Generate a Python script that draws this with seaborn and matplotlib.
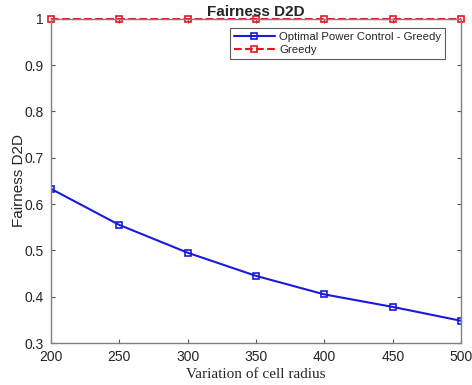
import matplotlib
matplotlib.use("Agg")
import matplotlib.pyplot as plt
import seaborn as sns
import pandas as pd

radius = [200, 250, 300, 350, 400, 450, 500]
opc_greedy = [0.633, 0.555, 0.495, 0.445, 0.405, 0.378, 0.348]
greedy = [1.0, 1.0, 1.0, 1.0, 1.0, 1.0, 1.0]

sns.set_style("white")
plt.rcParams['font.family'] = ['Liberation Sans', 'DejaVu Sans']

df1 = pd.DataFrame({"x": radius, "y": opc_greedy})
df2 = pd.DataFrame({"x": radius, "y": greedy})

fig = plt.figure(figsize=(4.72, 3.85), dpi=100)
ax = fig.add_axes([0.108, 0.109, 0.869, 0.842])

sns.lineplot(data=df1, x="x", y="y", ax=ax, color="#1a1adb", linewidth=1.5,
             marker="s", markersize=5, markerfacecolor="none",
             markeredgecolor="#1a1adb", markeredgewidth=1.2,
             label="Optimal Power Control - Greedy")
sns.lineplot(data=df2, x="x", y="y", ax=ax, color="#e8161c", linewidth=1.5,
             linestyle="--", marker="s", markersize=5, markerfacecolor="none",
             markeredgecolor="#e8161c", markeredgewidth=1.2,
             label="Greedy", clip_on=False)

ax.set_xlim(200, 500)
ax.set_ylim(0.3, 1.0)
ax.set_xticks(radius)
ax.set_yticks([0.3, 0.4, 0.5, 0.6, 0.7, 0.8, 0.9, 1.0])
ax.set_yticklabels(["0.3", "0.4", "0.5", "0.6", "0.7", "0.8", "0.9", "1"])
ax.tick_params(direction="in", length=3, labelsize=10, colors="#262626",
               top=True, right=True, bottom=True, left=True, pad=5)
ax.tick_params(which="both", color="#555555")
for s in ax.spines.values():
    s.set_color("#808080")
    s.set_linewidth(1.0)

ax.set_title("Fairness D2D", fontsize=11, fontweight="bold", pad=2)
ax.set_xlabel("Variation of cell radius", fontsize=11,
              family=["Liberation Serif", "DejaVu Serif"], labelpad=3)
ax.set_ylabel("Fairness D2D", fontsize=11)
ax.yaxis.set_label_coords(-0.062, 0.5)

leg = ax.legend(loc="upper right", bbox_to_anchor=(0.975, 0.99), fontsize=8.2,
                frameon=True, fancybox=False, edgecolor="#333333",
                handlelength=3.6, borderpad=0.35, labelspacing=0.25,
                handletextpad=0.4)
leg.get_frame().set_linewidth(0.8)

fig.savefig("out.png", dpi=100)
